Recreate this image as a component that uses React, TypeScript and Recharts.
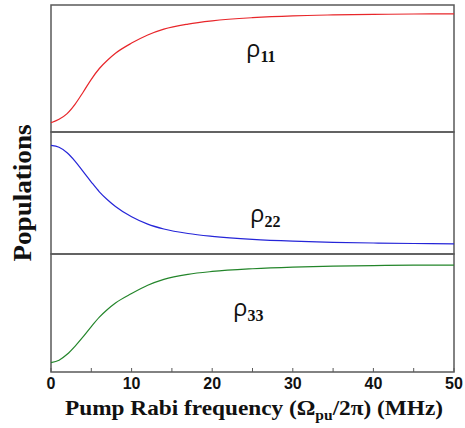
import React from "react";
import { LineChart, Line, XAxis, YAxis, ReferenceArea } from "recharts";

const xValues = [0, 1, 2, 3, 4, 5, 6, 7, 8, 10, 12, 14, 17, 20, 25, 30, 35, 40, 45, 50];
const rho11 = [0.073, 0.1, 0.145, 0.22, 0.315, 0.415, 0.5, 0.565, 0.62, 0.7, 0.764, 0.81, 0.85, 0.875, 0.9, 0.915, 0.922, 0.926, 0.929, 0.93];
const rho22 = [0.89, 0.875, 0.83, 0.76, 0.675, 0.59, 0.51, 0.445, 0.39, 0.305, 0.245, 0.205, 0.168, 0.145, 0.12, 0.105, 0.096, 0.09, 0.086, 0.083];
const rho33 = [0.08, 0.1, 0.15, 0.22, 0.3, 0.385, 0.465, 0.53, 0.585, 0.665, 0.735, 0.785, 0.828, 0.852, 0.875, 0.889, 0.897, 0.902, 0.905, 0.906];
const xTicks = [0, 5, 10, 15, 20, 25, 30, 35, 40, 45, 50];

const panelData = (vals: number[]) => xValues.map((x, i) => ({ x, v: vals[i] }));

const W = 465;
const LEFT = 51;
const RIGHT = 11;
const BOX = "#5a5a5a";

const BottomTick = (props: any) => {
  const { x, y, payload } = props;
  const major = payload.value % 10 === 0;
  return (
    <g>
      <line x1={x} x2={x} y1={y} y2={y - 4} stroke={BOX} strokeWidth={1} />
      {major && (
        <text
          x={x}
          y={y + 17}
          textAnchor="middle"
          fontFamily="'Liberation Sans', Arial, sans-serif"
          fontWeight="bold"
          fontSize={16}
          fill="#111"
        >
          {payload.value}
        </text>
      )}
    </g>
  );
};

type PanelProps = {
  top: number;
  plotTop: number;
  plotBottom: number;
  vals: number[];
  color: string;
  showTicks?: boolean;
};

const Panel = ({ top, plotTop, plotBottom, vals, color, showTicks }: PanelProps) => {
  const axisH = showTicks ? 30 : 0;
  const height = plotBottom - top + axisH + 2;
  return (
    <div style={{ position: "absolute", left: 0, top }}>
      <LineChart
        width={W}
        height={height}
        data={panelData(vals)}
        margin={{ top: plotTop - top, right: RIGHT, left: LEFT, bottom: 2 }}
      >
        <XAxis
          dataKey="x"
          type="number"
          domain={[0, 50]}
          ticks={xTicks}
          height={axisH}
          axisLine={false}
          tickLine={false}
          tickSize={0}
          tickMargin={0}
          tick={showTicks ? (p: any) => <BottomTick {...p} /> : false}
          interval={0}
        />
        <YAxis type="number" domain={[0, 1]} width={0} hide />
        <ReferenceArea x1={0} x2={50} y1={0} y2={1} fill="none" stroke={BOX} strokeWidth={1.5} strokeOpacity={1} fillOpacity={0} />
        <Line type="monotone" dataKey="v" stroke={color} strokeWidth={1.2} dot={false} isAnimationActive={false} />
      </LineChart>
    </div>
  );
};

const serif = "'Liberation Serif', 'Times New Roman', serif";
const sans = "'Open Sans', 'DejaVu Sans', sans-serif";

const Rho = ({ x, y, sub }: { x: number; y: number; sub: string }) => (
  <text x={x} y={y} fill="#111">
    <tspan fontFamily={sans} fontSize={24}>ρ</tspan>
    <tspan fontFamily={serif} fontWeight="bold" fontSize={16} dy={5}>{sub}</tspan>
  </text>
);

export default function App() {
  return (
    <div style={{ position: "fixed", left: 0, top: 0, width: W, height: 428, background: "#fff" }}>
      <Panel top={0} plotTop={5} plotBottom={132} vals={rho11} color="#e8262a" />
      <Panel top={128} plotTop={132} plotBottom={254} vals={rho22} color="#2525d8" />
      <Panel top={250} plotTop={254} plotBottom={372} vals={rho33} color="#23852a" showTicks />
      <svg width={W} height={428} style={{ position: "absolute", left: 0, top: 0, pointerEvents: "none" }}>
        <Rho x={246} y={57} sub="11" />
        <Rho x={250} y={222} sub="22" />
        <Rho x={233} y={316} sub="33" />
        <text
          x={0}
          y={0}
          transform="translate(31,193) rotate(-90)"
          textAnchor="middle"
          fontFamily={serif}
          fontWeight="bold"
          fontSize={26}
          textLength={137}
          lengthAdjust="spacingAndGlyphs"
          fill="#111"
        >
          Populations
        </text>
        <text
          x={65}
          y={415}
          fontFamily={serif}
          fontWeight="bold"
          fontSize={21}
          textLength={378}
          lengthAdjust="spacingAndGlyphs"
          fill="#111"
        >
          Pump Rabi frequency (Ω
          <tspan fontSize={14} dy={5}>pu</tspan>
          <tspan dy={-5}>/2π) (MHz)</tspan>
        </text>
      </svg>
    </div>
  );
}
